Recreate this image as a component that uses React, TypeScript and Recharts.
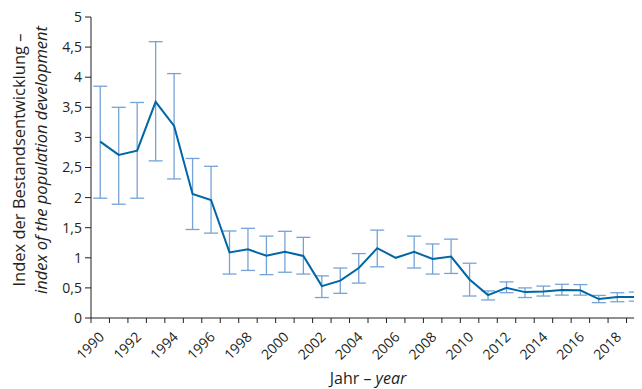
import React from "react"
import { LineChart, Line, XAxis, YAxis, ErrorBar, Label } from "recharts"

const years = [
    1990, 1991, 1992, 1993, 1994, 1995, 1996, 1997, 1998, 1999,
    2000, 2001, 2002, 2003, 2004, 2005, 2006, 2007, 2008, 2009,
    2010, 2011, 2012, 2013, 2014, 2015, 2016, 2017, 2018, 2019,
]

const indexValues = [
    2.93, 2.71, 2.78, 3.59, 3.19, 2.06, 1.96, 1.09, 1.14, 1.035,
    1.1, 1.03, 0.53, 0.62, 0.83, 1.16, 1.0, 1.1, 0.98, 1.02,
    0.64, 0.38, 0.5, 0.43, 0.44, 0.465, 0.46, 0.315, 0.35, 0.35,
]

const upperValues = [
    3.85, 3.5, 3.58, 4.59, 4.06, 2.65, 2.52, 1.445, 1.49, 1.36,
    1.44, 1.34, 0.7, 0.83, 1.07, 1.46, null, 1.36, 1.23, 1.31,
    0.91, 0.45, 0.6, 0.5, 0.53, 0.56, 0.555, 0.375, 0.42, 0.43,
]

const lowerValues = [
    1.99, 1.89, 1.99, 2.61, 2.31, 1.47, 1.41, 0.73, 0.79, 0.72,
    0.76, 0.73, 0.34, 0.41, 0.58, 0.85, null, 0.83, 0.73, 0.74,
    0.365, 0.3, 0.42, 0.34, 0.365, 0.38, 0.38, 0.255, 0.27, 0.28,
]

const yTicks = [0, 0.5, 1, 1.5, 2, 2.5, 3, 3.5, 4, 4.5, 5]

const data = years.map((year, i) => ({
    year,
    value: indexValues[i],
    err:
        upperValues[i] == null || lowerValues[i] == null
            ? null
            : [indexValues[i] - (lowerValues[i] as number), (upperValues[i] as number) - indexValues[i]],
}))

// tick marks sit between the years, labels on every second year
const xTicks = [...years.map((y) => y - 0.5), years[years.length - 1] + 0.5]

const FONT = "'Open Sans', sans-serif"
const TEXT = "#231f20"

const CHART_W = 650
const CHART_H = 380
const MARGIN = { top: 9, right: 13, bottom: 20, left: 43 }
const Y_AXIS_W = 40
const HALF_BAND = (CHART_W - MARGIN.left - MARGIN.right - Y_AXIS_W) / years.length / 2

function XTick(props: any) {
    const { x, y, payload } = props
    const year = payload.value + 0.5
    if (year % 2 !== 0 || year > 2018) return null
    const cx = x + HALF_BAND + 1
    const cy = y + 9
    return (
        <text
            x={cx}
            y={cy}
            transform={`rotate(-45, ${cx}, ${cy})`}
            textAnchor="end"
            dominantBaseline="central"
            fontFamily={FONT}
            fontSize={14}
            fill={TEXT}
        >
            {year}
        </text>
    )
}

function YLabel() {
    const cy = 152
    return (
        <g fontFamily={FONT} fontSize={16.5} fill={TEXT}>
            <text x={10} y={cy} transform={`rotate(-90, 10, ${cy})`} textAnchor="middle" dominantBaseline="central">
                Index der Bestandsentwicklung –
            </text>
            <text
                x={32}
                y={cy}
                transform={`rotate(-90, 32, ${cy})`}
                textAnchor="middle"
                dominantBaseline="central"
                fontStyle="italic"
            >
                index of the population development
            </text>
        </g>
    )
}

function XLabel(props: any) {
    const { viewBox } = props
    const cx = viewBox.x + viewBox.width / 2
    return (
        <text x={cx} y={376} textAnchor="middle" fontFamily={FONT} fontSize={16} fill={TEXT}>
            Jahr – <tspan fontStyle="italic">year</tspan>
        </text>
    )
}

export default function App() {
    return (
        <div style={{ width: 634, height: 381, overflow: "hidden" }}>
            <LineChart width={CHART_W} height={CHART_H} data={data} margin={MARGIN}>
                <XAxis
                    dataKey="year"
                    type="number"
                    domain={[1989.5, 2019.5]}
                    ticks={xTicks}
                    interval={0}
                    tick={<XTick />}
                    tickSize={5}
                    stroke={TEXT}
                    height={50}
                >
                    <Label content={<XLabel />} />
                </XAxis>
                <YAxis
                    domain={[0, 5]}
                    ticks={yTicks}
                    interval={0}
                    width={Y_AXIS_W}
                    tickSize={6}
                    tickMargin={3}
                    stroke={TEXT}
                    tick={{ fontFamily: FONT, fontSize: 14, fill: TEXT }}
                    tickFormatter={(v: number) => String(v).replace(".", ",")}
                >
                    <Label content={<YLabel />} />
                </YAxis>
                <Line
                    dataKey="value"
                    stroke="none"
                    dot={false}
                    isAnimationActive={false}
                >
                    <ErrorBar dataKey="err" width={7} strokeWidth={1.3} stroke="#76a3d6" direction="y" />
                </Line>
                <Line
                    dataKey="value"
                    stroke="#0066a6"
                    strokeWidth={2}
                    dot={false}
                    isAnimationActive={false}
                />
            </LineChart>
        </div>
    )
}
